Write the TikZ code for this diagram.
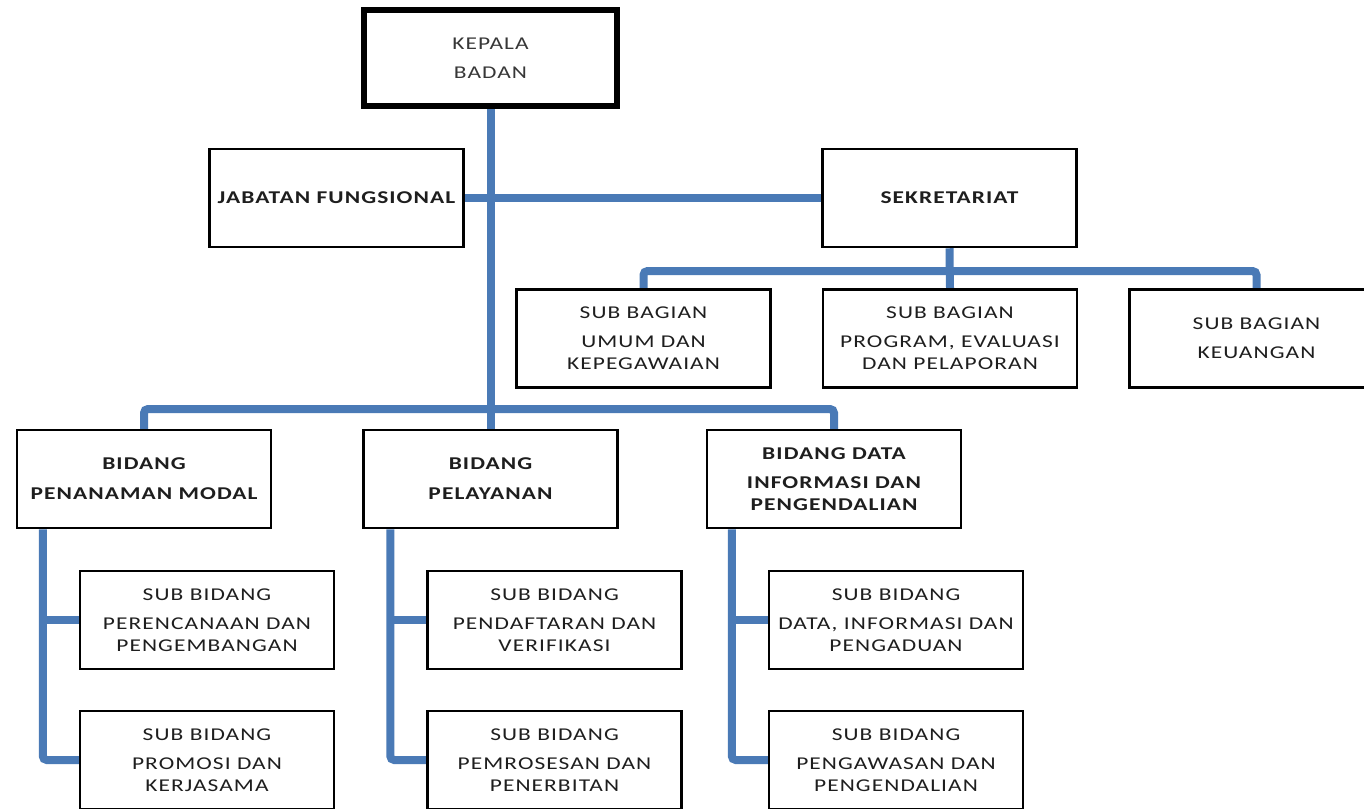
\documentclass[tikz,border=0pt]{standalone}
\usepackage{fontspec}
\setmainfont{Carlito}[FakeStretch=1.3,LetterSpace=6]
\usetikzlibrary{calc,backgrounds}
\definecolor{linkblue}{RGB}{74,122,182}
\definecolor{inkgray}{RGB}{30,30,30}
\begin{document}
\begin{tikzpicture}[x=1pt,y=-1pt,
  unit/.style={draw=black, line width=2.5pt, fill=white, minimum width=254pt,
    minimum height=98pt, inner sep=0pt, align=center, text=inkgray,
    font=\fontsize{18}{22}\selectfont},
  head/.style={unit, line width=6pt, minimum width=253pt, minimum height=96pt,
    text={rgb,255:red,55;green,55;blue,55}},
  strong/.style={font=\fontsize{18}{22}\selectfont\bfseries},
  link/.style={draw=linkblue, line width=8pt, rounded corners=4pt}]
\useasboundingbox (0,0) rectangle (1364,808);
\clip (0,0) rectangle (1364,808);

% top level
\node[head] (kepala) at (490.5,58) {KEPALA\\[7pt]BADAN};
\node[unit, strong] (jabatan) at (336.5,198) {JABATAN FUNGSIONAL};
\node[unit, strong] (sekretariat) at (949.5,198) {SEKRETARIAT};

% secretariat sub-sections
\node[unit] (sbumum) at (643.5,338.5) {SUB BAGIAN\\[7pt]UMUM DAN\\KEPEGAWAIAN};
\node[unit] (sbprogram) at (950,338.5) {SUB BAGIAN\\[7pt]PROGRAM, EVALUASI\\DAN PELAPORAN};
\node[unit] (sbkeu) at (1256.5,338.5) {SUB BAGIAN\\[7pt]KEUANGAN};

% divisions
\node[unit, strong] (bdmodal) at (144,479) {BIDANG\\[8pt]PENANAMAN MODAL};
\node[unit, strong] (bdlayan) at (490.5,479) {BIDANG\\[8pt]PELAYANAN};
\node[unit, strong] (bddata) at (834,479) {BIDANG DATA\\[7pt]INFORMASI DAN\\PENGENDALIAN};

% sub-divisions
\node[unit] (s11) at (207,620) {SUB BIDANG\\[7pt]PERENCANAAN DAN\\PENGEMBANGAN};
\node[unit] (s12) at (207,760) {SUB BIDANG\\[7pt]PROMOSI DAN\\KERJASAMA};
\node[unit] (s21) at (554.5,620) {SUB BIDANG\\[7pt]PENDAFTARAN DAN\\VERIFIKASI};
\node[unit] (s22) at (554.5,760) {SUB BIDANG\\[7pt]PEMROSESAN DAN\\PENERBITAN};
\node[unit] (s31) at (896,620) {SUB BIDANG\\[7pt]DATA, INFORMASI DAN\\PENGADUAN};
\node[unit] (s32) at (896,760) {SUB BIDANG\\[7pt]PENGAWASAN DAN\\PENGENDALIAN};

% connectors
\begin{scope}[on background layer]
  \coordinate (bbar) at (490.5,409);
  \coordinate (sbar) at (949.5,271);
  \draw[link] (kepala.south) -- (bdlayan.north);
  \draw[link] (jabatan.east) -- (sekretariat.west);
  \draw[link] (sekretariat.south) -- (sbprogram.north);
  \draw[link] (sbumum.north) |- (sbar) -| (sbkeu.north);
  \draw[link] (bdmodal.north) |- (bbar) -| (bddata.north);
  \coordinate (t1) at ($(bdmodal.south west)+(27,0)$);
  \coordinate (t2) at ($(bdlayan.south west)+(28,0)$);
  \coordinate (t3) at ($(bddata.south west)+(26,0)$);
  \draw[link] (t1) |- (s12.west);
  \draw[link] (t1 |- s11.west) -- (s11.west);
  \draw[link] (t2) |- (s22.west);
  \draw[link] (t2 |- s21.west) -- (s21.west);
  \draw[link] (t3) |- (s32.west);
  \draw[link] (t3 |- s31.west) -- (s31.west);
\end{scope}
\end{tikzpicture}
\end{document}
